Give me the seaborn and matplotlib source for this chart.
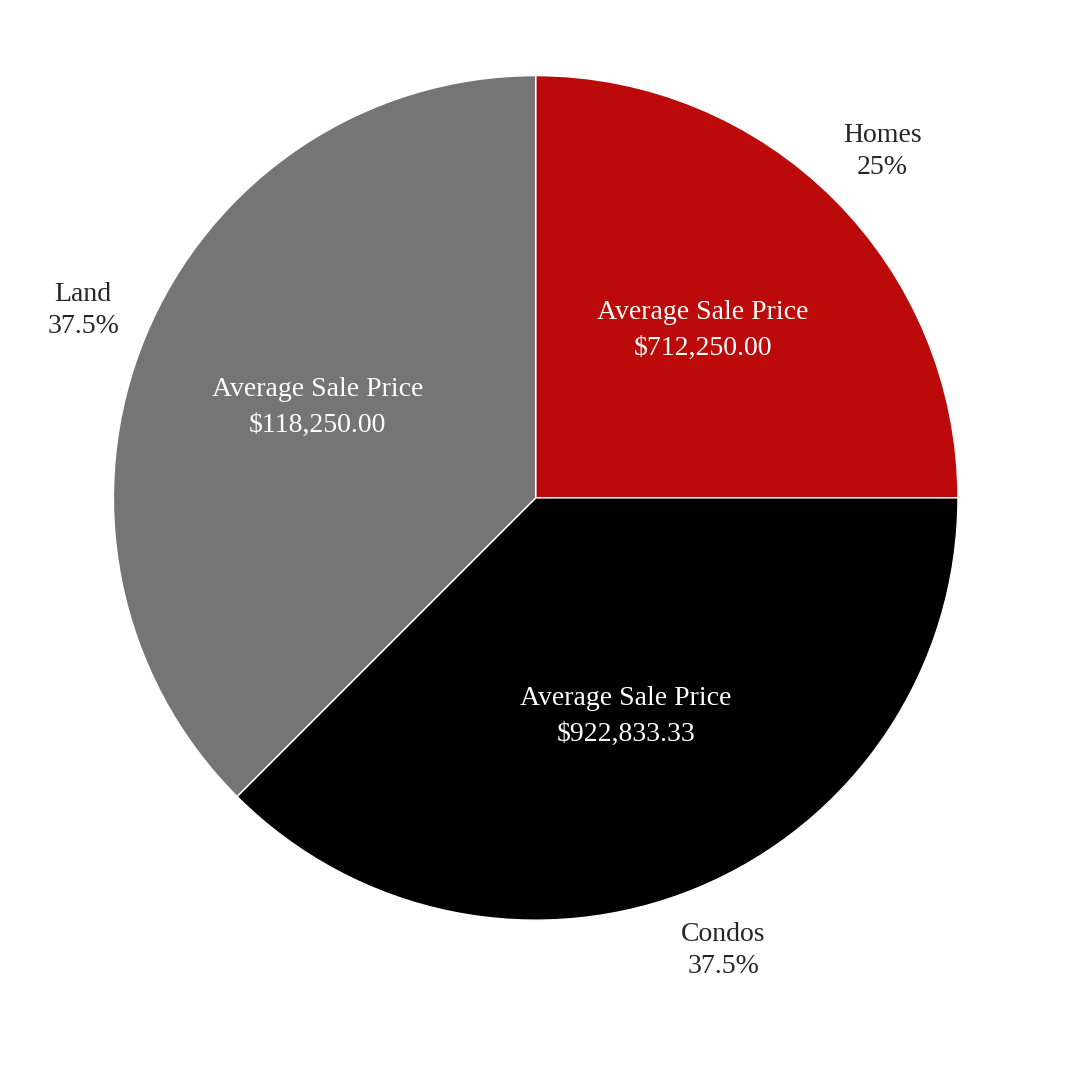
import seaborn as sns
import matplotlib.pyplot as plt

CATEGORIES = ['Homes', 'Condos', 'Land']
SHARES = [25, 37.5, 37.5]
AVG_PRICES = [712250.00, 922833.33, 118250.00]
COLORS = ['#BC0A0A', '#000000', '#757575']

sns.set_theme(style='white')
plt.rcParams['font.family'] = ['Liberation Serif', 'DejaVu Serif']

fig = plt.figure(figsize=(10.8, 10.8), dpi=100)
ax = fig.add_axes([0.105, 0.148, 0.782, 0.782])

labels = [f'{c}\n{s:g}%' for c, s in zip(CATEGORIES, SHARES)]
wedges, texts = ax.pie(SHARES, colors=COLORS, labels=labels, startangle=90,
                       counterclock=False, labeldistance=1.16,
                       textprops={'fontsize': 20, 'linespacing': 1.4})
for t in texts:
    t.set_horizontalalignment('center')
    t.set_verticalalignment('center')

# inner price labels at wedge mid-angles
import numpy as np
for w, p in zip(wedges, AVG_PRICES):
    ang = np.deg2rad((w.theta1 + w.theta2) / 2)
    r = 0.56
    ax.text(r * np.cos(ang), r * np.sin(ang), f'Average Sale Price\n${p:,.2f}',
            ha='center', va='center', color='white', fontsize=20, linespacing=1.6)

ax.set_xlim(-1, 1)
ax.set_ylim(-1, 1)
ax.set_aspect('equal')
fig.savefig('out.png', dpi=100, facecolor='white')
